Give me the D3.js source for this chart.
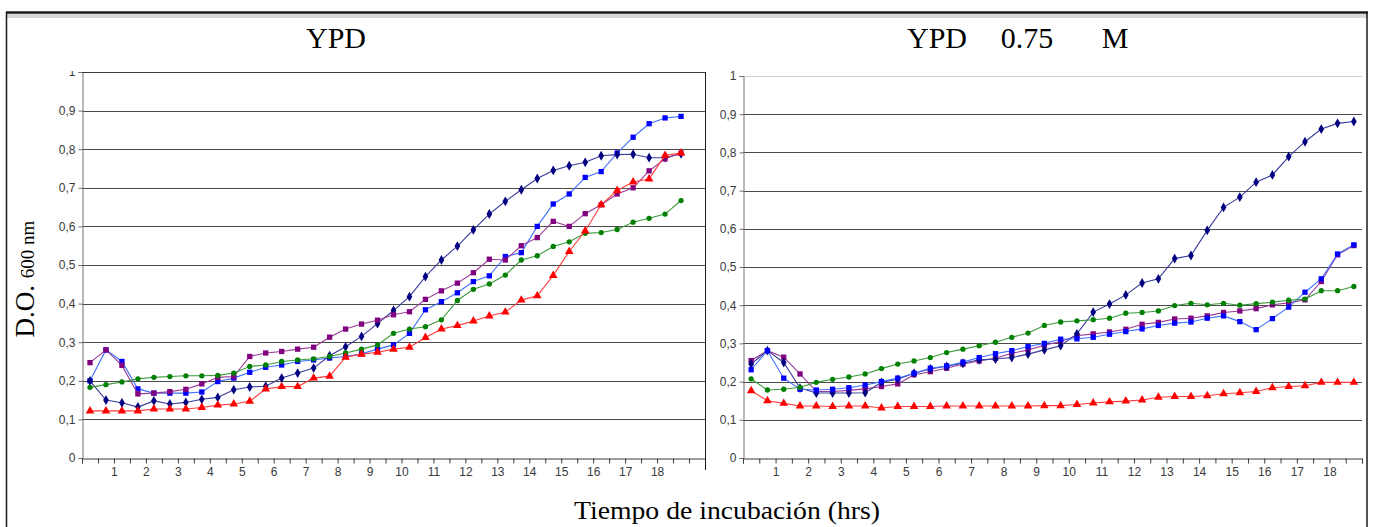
<!DOCTYPE html>
<html>
<head>
<meta charset="utf-8">
<script src="https://cdn.jsdelivr.net/npm/d3@7"></script>
<style>
  html, body { margin: 0; padding: 0; background: #fff; }
  svg { display: block; }
  .tick text { font-family: "Liberation Sans", Arial, sans-serif; font-size: 12px; fill: #3a3a3a; }
  .serif { font-family: "Liberation Serif", "Times New Roman", serif; fill: #000; }
</style>
</head>
<body>
<svg id="chart" width="1374" height="527"></svg>
<script>
// Growth curves (D.O. 600 nm) in YPD and YPD 0.75 M.
const HOURS = [0.25, 0.75, 1.25, 1.75, 2.25, 2.75, 3.25, 3.75, 4.25, 4.75,
    5.25, 5.75, 6.25, 6.75, 7.25, 7.75, 8.25, 8.75, 9.25, 9.75,
    10.25, 10.75, 11.25, 11.75, 12.25, 12.75, 13.25, 13.75, 14.25, 14.75,
    15.25, 15.75, 16.25, 16.75, 17.25, 17.75, 18.25, 18.75];
const HOUR_LABELS = [1, 2, 3, 4, 5, 6, 7, 8, 9, 10, 11, 12, 13, 14, 15, 16, 17, 18];
const OD_TICKS = [0, 0.1, 0.2, 0.3, 0.4, 0.5, 0.6, 0.7, 0.8, 0.9, 1];

// left panel: YPD
const ypdNavy = [0.200, 0.150, 0.143, 0.132, 0.148, 0.140, 0.144, 0.152, 0.157, 0.177,
    0.184, 0.186, 0.207, 0.220, 0.233, 0.265, 0.288, 0.315, 0.348, 0.382,
    0.418, 0.470, 0.513, 0.549, 0.591, 0.632, 0.665, 0.695, 0.724, 0.745,
    0.757, 0.766, 0.783, 0.786, 0.787, 0.778, 0.778, 0.788];
const ypdBlue = [0.200, 0.280, 0.250, 0.179, 0.168, 0.168, 0.168, 0.171, 0.198, 0.207,
    0.222, 0.235, 0.241, 0.250, 0.254, 0.259, 0.263, 0.270, 0.282, 0.293,
    0.323, 0.384, 0.405, 0.428, 0.457, 0.472, 0.522, 0.532, 0.600, 0.658,
    0.684, 0.727, 0.742, 0.790, 0.831, 0.866, 0.881, 0.885];
const ypdPurple = [0.247, 0.280, 0.240, 0.166, 0.168, 0.172, 0.178, 0.192, 0.209, 0.211,
    0.263, 0.272, 0.276, 0.282, 0.287, 0.313, 0.334, 0.347, 0.357, 0.371,
    0.379, 0.411, 0.433, 0.453, 0.480, 0.515, 0.513, 0.550, 0.571, 0.613,
    0.600, 0.633, 0.656, 0.684, 0.700, 0.744, 0.775, 0.790];
const ypdGreen = [0.183, 0.190, 0.197, 0.205, 0.209, 0.211, 0.213, 0.213, 0.214, 0.220,
    0.237, 0.241, 0.250, 0.254, 0.257, 0.263, 0.272, 0.282, 0.293, 0.323,
    0.334, 0.340, 0.358, 0.408, 0.437, 0.451, 0.474, 0.513, 0.524, 0.548,
    0.560, 0.582, 0.584, 0.592, 0.611, 0.621, 0.632, 0.667];
const ypdRed = [0.122, 0.122, 0.122, 0.122, 0.127, 0.127, 0.127, 0.131, 0.137, 0.140,
    0.147, 0.179, 0.185, 0.185, 0.207, 0.212, 0.261, 0.269, 0.274, 0.282,
    0.287, 0.312, 0.334, 0.343, 0.355, 0.368, 0.378, 0.409, 0.420, 0.473,
    0.535, 0.588, 0.656, 0.693, 0.715, 0.723, 0.784, 0.790];

// right panel: YPD 0.75 M
const saltNavy = [0.246, 0.281, 0.250, 0.183, 0.170, 0.170, 0.170, 0.171, 0.198, 0.206,
    0.222, 0.233, 0.240, 0.248, 0.257, 0.259, 0.263, 0.272, 0.283, 0.294,
    0.325, 0.382, 0.403, 0.427, 0.458, 0.469, 0.522, 0.530, 0.596, 0.656,
    0.683, 0.722, 0.741, 0.789, 0.828, 0.861, 0.876, 0.881];
const saltBlue = [0.231, 0.281, 0.209, 0.180, 0.178, 0.180, 0.184, 0.191, 0.200, 0.209,
    0.222, 0.235, 0.241, 0.251, 0.263, 0.273, 0.281, 0.292, 0.300, 0.311,
    0.312, 0.316, 0.324, 0.331, 0.338, 0.347, 0.353, 0.356, 0.366, 0.372,
    0.357, 0.336, 0.365, 0.395, 0.434, 0.469, 0.534, 0.558];
const saltPurple = [0.255, 0.281, 0.264, 0.220, 0.174, 0.174, 0.177, 0.181, 0.187, 0.194,
    0.218, 0.226, 0.235, 0.246, 0.254, 0.261, 0.274, 0.283, 0.295, 0.305,
    0.320, 0.325, 0.330, 0.337, 0.350, 0.355, 0.364, 0.366, 0.372, 0.381,
    0.385, 0.391, 0.401, 0.406, 0.414, 0.462, 0.532, 0.556];
const saltGreen = [0.207, 0.178, 0.180, 0.185, 0.198, 0.206, 0.212, 0.220, 0.234, 0.246,
    0.254, 0.263, 0.276, 0.285, 0.294, 0.303, 0.316, 0.327, 0.347, 0.356,
    0.359, 0.362, 0.366, 0.379, 0.381, 0.385, 0.399, 0.405, 0.401, 0.405,
    0.400, 0.404, 0.408, 0.413, 0.416, 0.438, 0.438, 0.449];
const saltRed = [0.176, 0.150, 0.143, 0.136, 0.136, 0.135, 0.136, 0.136, 0.131, 0.135,
    0.135, 0.135, 0.136, 0.136, 0.136, 0.136, 0.136, 0.136, 0.137, 0.137,
    0.140, 0.144, 0.147, 0.149, 0.152, 0.159, 0.161, 0.161, 0.163, 0.168,
    0.171, 0.174, 0.184, 0.187, 0.189, 0.198, 0.198, 0.198];

const STYLE = {
    navy:   { line: '#3a3a9c', fill: '#000080', symbol: d3.symbolDiamond, size: 28 },
    blue:   { line: '#4070ff', fill: '#0000ff', symbol: d3.symbolSquare, size: 28 },
    purple: { line: '#9a3a9a', fill: '#800080', symbol: d3.symbolSquare, size: 28 },
    green:  { line: '#3a9a3a', fill: '#008000', symbol: d3.symbolCircle, size: 22 },
    red:    { line: '#ff3a3a', fill: '#ff0000', symbol: d3.symbolTriangle, size: 32 },
};

const svg = d3.select('#chart');

// outer frame of the figure
svg.append('rect').attr('x', 6).attr('y', 14).attr('width', 1361).attr('height', 4)
    .attr('fill', '#d8d8d8');
svg.append('line').attr('x1', 6).attr('x2', 1368).attr('y1', 12.5).attr('y2', 12.5)
    .attr('stroke', '#1a1a1a').attr('stroke-width', 2.5);
svg.append('line').attr('x1', 6.5).attr('x2', 6.5).attr('y1', 12).attr('y2', 527)
    .attr('stroke', '#1a1a1a').attr('stroke-width', 1.5);
svg.append('line').attr('x1', 1367).attr('x2', 1367).attr('y1', 12).attr('y2', 527)
    .attr('stroke', '#1a1a1a').attr('stroke-width', 1.5);

const fmtOD = (d) => (d === 0 ? '0' : d === 1 ? '1' : d3.format('.1f')(d).replace('.', ','));

function drawPanel(cfg) {
    const x = d3.scaleLinear().domain([0, cfg.xMax]).range([cfg.left, cfg.right]);
    const y = d3.scaleLinear().domain([0, 1]).range([458, cfg.top]);
    const g = svg.append('g');

    // horizontal gridlines
    g.append('g').selectAll('line').data(OD_TICKS.slice(1)).join('line')
        .attr('x1', cfg.left).attr('x2', cfg.right)
        .attr('y1', (d) => Math.round(y(d)) + 0.5).attr('y2', (d) => Math.round(y(d)) + 0.5)
        .attr('stroke', (d) => (d === 1 ? cfg.topGrid : '#4a4a4a'))
        .attr('stroke-width', 1);

    // y axis; the left chart crops the top "1" label at the plot edge
    const yAxis = g.append('g').attr('transform', `translate(${cfg.left + 0.5},0)`)
        .call(d3.axisLeft(y).tickValues(OD_TICKS).tickFormat(fmtOD).tickSize(4).tickPadding(3));
    yAxis.select('.domain').attr('stroke', '#707070');
    yAxis.selectAll('.tick line').attr('stroke', '#707070');
    if (cfg.clipTop) {
        const id = 'clip' + cfg.left;
        svg.append('clipPath').attr('id', id).append('rect')
            .attr('x', -100).attr('y', cfg.top - 1).attr('width', 200).attr('height', 500);
        yAxis.attr('clip-path', `url(#${id})`);
    }

    // x axis: half-hour tick marks, hourly labels
    const halfTicks = d3.range(0, cfg.xMax + 0.001, 0.5);
    const xAxis = g.append('g').attr('transform', 'translate(0,458.5)')
        .call(d3.axisBottom(x).tickValues(halfTicks).tickSize(5).tickPadding(4)
            .tickFormat((d) => (HOUR_LABELS.includes(d) ? String(d) : '')));
    xAxis.select('.domain').attr('stroke', '#3a3a3a');
    xAxis.selectAll('.tick line').attr('stroke', '#3a3a3a');

    if (cfg.frameRight) {
        g.append('line').attr('x1', cfg.right + 0.5).attr('x2', cfg.right + 0.5)
            .attr('y1', cfg.top).attr('y2', 470).attr('stroke', '#1a1a1a');
        g.append('line').attr('x1', cfg.left).attr('x2', cfg.right)
            .attr('y1', cfg.top + 0.5).attr('y2', cfg.top + 0.5).attr('stroke', '#3a3a3a');
    }

    const line = d3.line().defined((v) => v != null).x((_, i) => x(HOURS[i])).y((v) => y(v));
    cfg.series.forEach(([key, values]) => {
        const s = STYLE[key];
        g.append('path').datum(values)
            .attr('fill', 'none').attr('stroke', s.line).attr('stroke-width', 1.1)
            .attr('d', line);
        g.append('g').selectAll('path')
            .data(values.map((v, i) => ({ v, t: HOURS[i] })).filter((d) => d.v != null))
            .join('path')
            .attr('transform', (d) => `translate(${x(d.t)},${y(d.v)})`)
            .attr('d', d3.symbol(s.symbol, s.size))
            .attr('fill', s.fill);
    });
}

drawPanel({
    left: 82, right: 705, top: 72, xMax: 19.5, topGrid: '#3a3a3a', clipTop: true, frameRight: true,
    series: [['blue', ypdBlue], ['navy', ypdNavy], ['purple', ypdPurple], ['green', ypdGreen], ['red', ypdRed]],
});
drawPanel({
    left: 743, right: 1362, top: 76, xMax: 19, topGrid: '#cfcfcf', clipTop: false, frameRight: false,
    series: [['purple', saltPurple], ['navy', saltNavy], ['blue', saltBlue], ['green', saltGreen], ['red', saltRed]],
});

// titles
svg.append('text').attr('class', 'serif').attr('x', 336).attr('y', 48)
    .attr('text-anchor', 'middle').attr('font-size', 30).text('YPD');
[['YPD', 937], ['0.75', 1027], ['M', 1115]].forEach(([t, cx]) => {
    svg.append('text').attr('class', 'serif').attr('x', cx).attr('y', 48)
        .attr('text-anchor', 'middle').attr('font-size', 30).text(t);
});

// axis titles
const yTitle = svg.append('text').attr('class', 'serif')
    .attr('transform', 'translate(34,279) rotate(-90)').attr('text-anchor', 'middle');
yTitle.append('tspan').attr('font-size', 27).text('D.O. ');
yTitle.append('tspan').attr('font-size', 19).text('600 nm');

svg.append('text').attr('class', 'serif').attr('x', 727).attr('y', 519)
    .attr('text-anchor', 'middle').attr('font-size', 26)
    .attr('textLength', 306).attr('lengthAdjust', 'spacingAndGlyphs')
    .text('Tiempo de incubación (hrs)');
</script>
</body>
</html>
